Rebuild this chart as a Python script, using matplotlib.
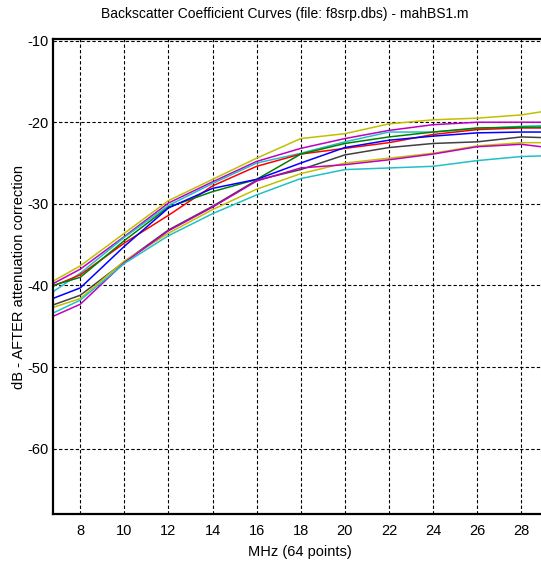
import matplotlib
matplotlib.use("Agg")
import matplotlib.pyplot as plt

plt.rcParams['font.family'] = ['Liberation Sans', 'DejaVu Sans']
plt.rcParams['axes.unicode_minus'] = False

# frequency points (MHz)
mhz = [6.75, 8, 10, 12, 14, 16, 18, 20, 22, 24, 26, 28, 29.2]

# backscatter curves (dB)
yellow1 = [-39.5, -37.6, -33.6, -29.6, -27.0, -24.4, -22.0, -21.4, -20.2, -19.7, -19.5, -19.1, -18.6]
magenta1 = [-39.8, -38.0, -34.0, -29.9, -27.3, -24.8, -23.2, -22.0, -21.0, -20.3, -20.0, -20.0, -20.0]
cyan1 = [-40.8, -38.5, -34.1, -30.2, -27.5, -25.0, -23.8, -22.4, -21.2, -21.2, -20.8, -20.5, -20.4]
red = [-40.1, -38.7, -34.8, -31.4, -27.8, -25.4, -23.9, -23.2, -22.5, -21.5, -20.9, -20.7, -20.7]
green = [-40.0, -39.0, -34.5, -30.4, -28.5, -27.0, -23.9, -22.6, -21.8, -21.2, -20.7, -20.6, -20.6]
blue = [-41.6, -40.3, -35.2, -30.5, -28.1, -27.0, -25.0, -23.1, -22.2, -21.7, -21.3, -21.2, -21.2]
gray = [-42.4, -41.2, -37.1, -33.2, -30.3, -27.1, -25.8, -24.0, -23.1, -22.6, -22.4, -21.8, -21.9]
yellow2 = [-42.7, -41.6, -37.0, -33.6, -30.7, -28.2, -26.3, -25.0, -24.4, -23.8, -22.9, -22.5, -22.5]
magenta2 = [-43.8, -42.3, -37.2, -33.3, -30.4, -27.2, -25.6, -25.2, -24.6, -23.9, -23.0, -22.7, -23.1]
cyan2 = [-43.4, -41.8, -37.3, -33.9, -31.2, -28.9, -26.9, -25.8, -25.6, -25.4, -24.7, -24.2, -24.1]

curves = [yellow1, magenta1, cyan1, red, green, blue, gray, yellow2, magenta2, cyan2]
colors = ['#c0c000', '#c000c0', '#20c0c8', '#ff0000', '#008000', '#0000ff', '#404040',
          '#c0c000', '#c000c0', '#20c0c8']

xticks = [8, 10, 12, 14, 16, 18, 20, 22, 24, 26, 28]
yticks = [-10, -20, -30, -40, -50, -60]

fig = plt.figure(figsize=(5.41, 5.62), dpi=100)
ax = fig.add_axes([0.0974, 0.0854, 0.915, 0.8452])

for c, col in zip(curves, colors):
    ax.plot(mhz, c, color=col, lw=1.1)

ax.set_xlim(6.75, 29.2)
ax.set_ylim(-68, -9.8)
ax.set_xticks(xticks)
ax.set_yticks(yticks)
ax.grid(True, color='black', linestyle=(0, (3, 2)), lw=0.8)
ax.tick_params(length=0, labelsize=10.5)
ax.tick_params(axis='y', pad=3)
ax.tick_params(axis='x', pad=7)
for s in ['left', 'bottom', 'top']:
    ax.spines[s].set_linewidth(1.6)

ax.set_xlabel('MHz (64 points)', fontsize=10.5, labelpad=5)
ax.set_ylabel('dB - AFTER attenuation correction', fontsize=10.5, labelpad=1)
fig.text(285 / 541, 1 - 14 / 562, 'Backscatter Coefficient Curves (file: f8srp.dbs) - mahBS1.m',
         ha='center', va='center', fontsize=10)

fig.savefig('out.png', dpi=100)
